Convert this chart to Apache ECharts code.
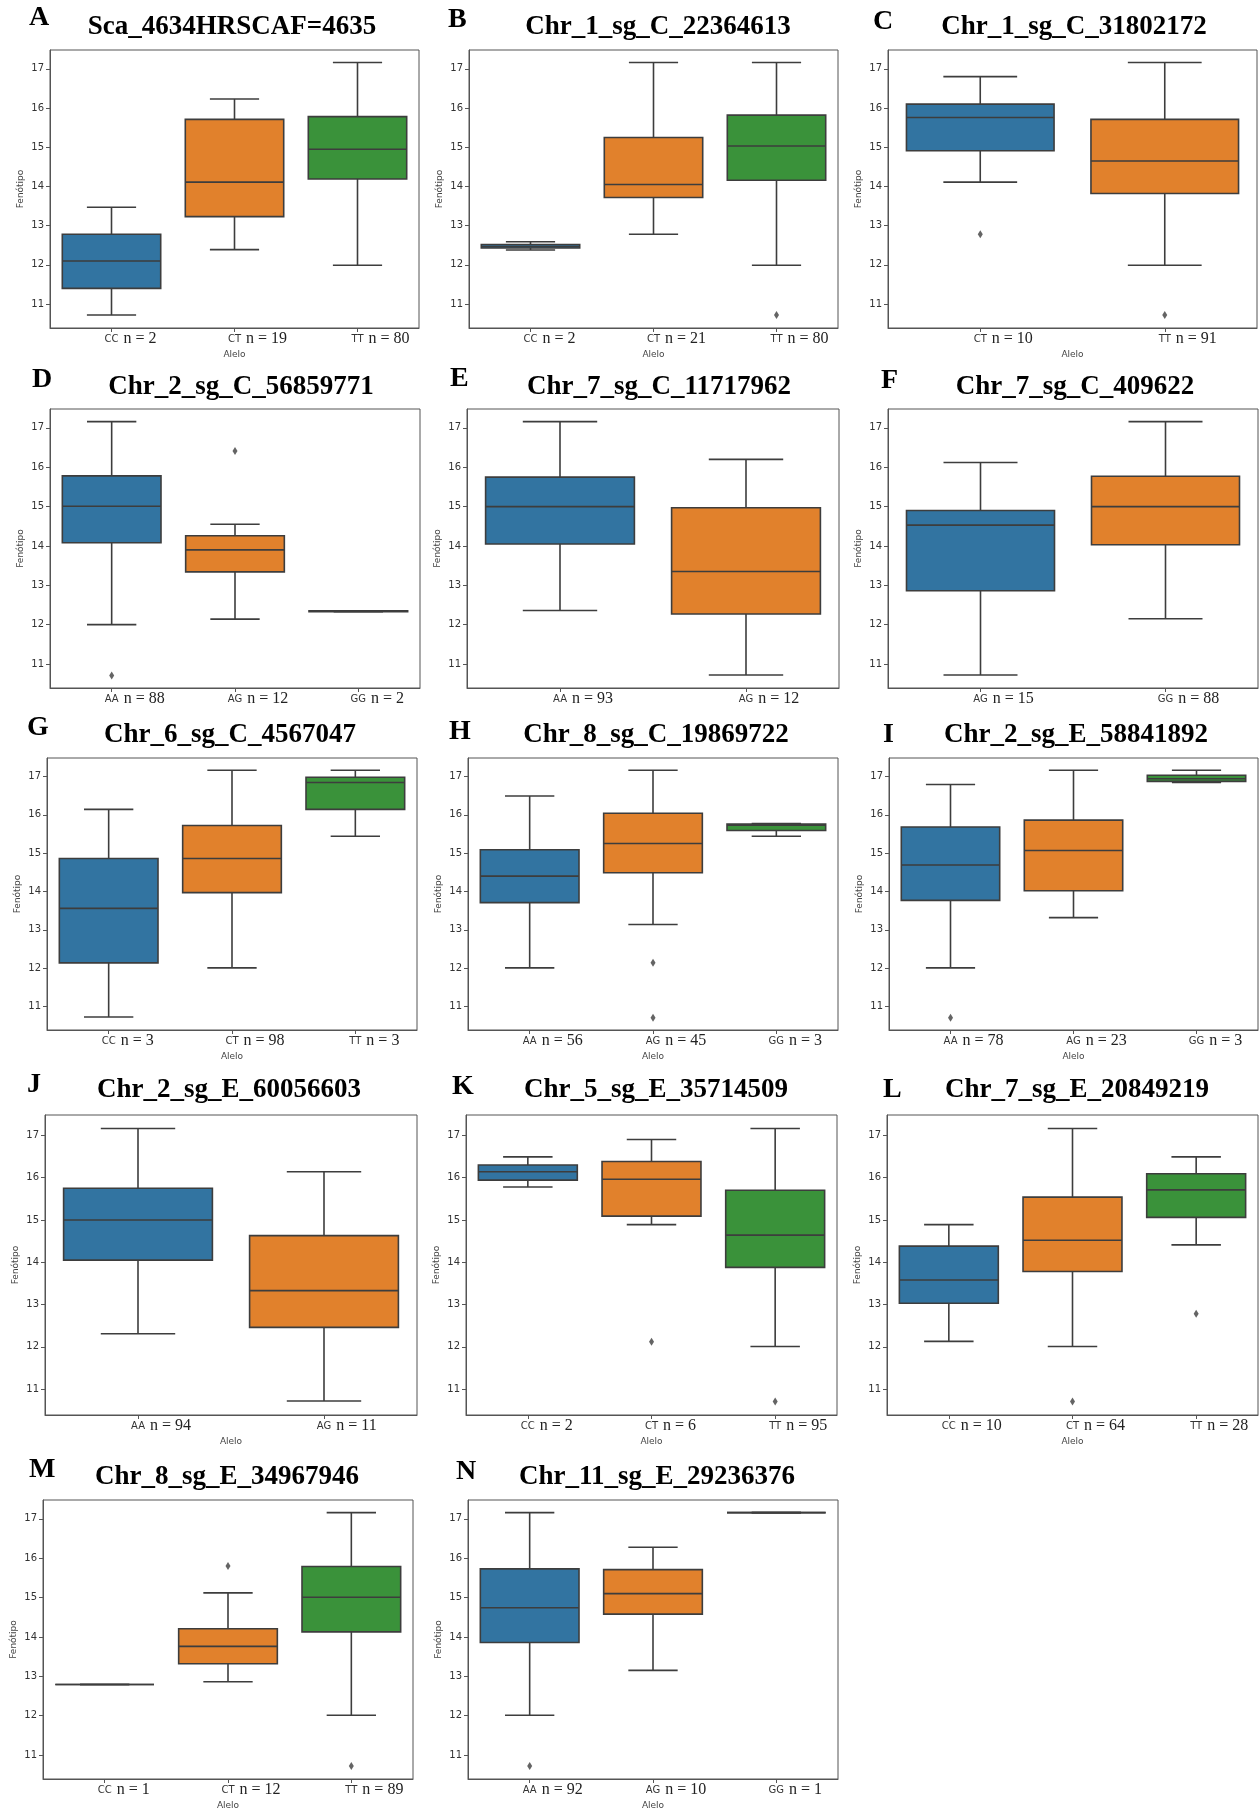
<!DOCTYPE html>
<html>
<head>
<meta charset="utf-8">
<script src="https://cdn.jsdelivr.net/npm/echarts@6/dist/echarts.min.js"></script>
<style>
  body { margin: 0; background: #fff; }
  #chart { width: 1260px; height: 1811px; }
</style>
</head>
<body>
<div id="chart"></div>
<script>
// panel titles and letters
const LETTERS = ['A', 'B', 'C', 'D', 'E', 'F', 'G', 'H', 'I', 'J', 'K', 'L', 'M', 'N'];
const TITLES = [
  'Sca_4634HRSCAF=4635', 'Chr_1_sg_C_22364613', 'Chr_1_sg_C_31802172',
  'Chr_2_sg_C_56859771', 'Chr_7_sg_C_11717962', 'Chr_7_sg_C_409622',
  'Chr_6_sg_C_4567047', 'Chr_8_sg_C_19869722', 'Chr_2_sg_E_58841892',
  'Chr_2_sg_E_60056603', 'Chr_5_sg_E_35714509', 'Chr_7_sg_E_20849219',
  'Chr_8_sg_E_34967946', 'Chr_11_sg_E_29236376'
];

// categories (alleles) and n per panel
const ALLELES = [
  ['CC', 'CT', 'TT'], ['CC', 'CT', 'TT'], ['CT', 'TT'],
  ['AA', 'AG', 'GG'], ['AA', 'AG'], ['AG', 'GG'],
  ['CC', 'CT', 'TT'], ['AA', 'AG', 'GG'], ['AA', 'AG', 'GG'],
  ['AA', 'AG'], ['CC', 'CT', 'TT'], ['CC', 'CT', 'TT'],
  ['CC', 'CT', 'TT'], ['AA', 'AG', 'GG']
];
const COUNTS = [
  [2, 19, 80], [2, 21, 80], [10, 91],
  [88, 12, 2], [93, 12], [15, 88],
  [3, 98, 3], [56, 45, 3], [78, 23, 3],
  [94, 11], [2, 6, 95], [10, 64, 28],
  [1, 12, 89], [92, 10, 1]
];

// box stats: [lower whisker, q1, median, q3, upper whisker]
const boxA = [[10.72, 11.40, 12.10, 12.78, 13.47], [12.39, 13.23, 14.11, 15.71, 16.23], [11.99, 14.19, 14.95, 15.78, 17.16]];
const boxB = [[12.38, 12.43, 12.47, 12.52, 12.59], [12.78, 13.72, 14.05, 15.25, 17.16], [11.99, 14.16, 15.03, 15.82, 17.16]];
const boxC = [[14.11, 14.91, 15.76, 16.10, 16.80], [11.99, 13.82, 14.65, 15.71, 17.16]];
const boxD = [[12.00, 14.08, 15.01, 15.78, 17.16], [12.14, 13.34, 13.90, 14.26, 14.55], [12.33, 12.33, 12.34, 12.35, 12.35]];
const boxE = [[12.36, 14.05, 15.00, 15.75, 17.16], [10.72, 12.27, 13.35, 14.97, 16.20]];
const boxF = [[10.72, 12.86, 14.53, 14.90, 16.12], [12.15, 14.03, 15.00, 15.77, 17.16]];
const boxG = [[10.73, 12.14, 13.56, 14.86, 16.14], [12.01, 13.97, 14.86, 15.72, 17.16], [15.44, 16.14, 16.84, 16.98, 17.16]];
const boxH = [[12.01, 13.71, 14.40, 15.09, 16.49], [13.14, 14.49, 15.25, 16.04, 17.16], [15.44, 15.59, 15.73, 15.76, 15.77]];
const boxI = [[12.01, 13.77, 14.69, 15.68, 16.79], [13.32, 14.02, 15.07, 15.86, 17.16], [16.84, 16.87, 16.94, 17.03, 17.16]];
const boxJ = [[12.31, 14.05, 15.00, 15.75, 17.16], [10.72, 12.46, 13.33, 14.63, 16.14]];
const boxK = [[15.78, 15.94, 16.14, 16.30, 16.49], [14.89, 15.09, 15.96, 16.38, 16.90], [12.01, 13.88, 14.64, 15.70, 17.16]];
const boxL = [[12.13, 13.03, 13.58, 14.38, 14.89], [12.01, 13.78, 14.52, 15.54, 17.16], [14.41, 15.06, 15.71, 16.09, 16.49]];
const boxM = [[12.79, 12.79, 12.79, 12.79, 12.79], [12.86, 13.32, 13.76, 14.21, 15.12], [12.01, 14.13, 15.01, 15.79, 17.16]];
const boxN = [[12.01, 13.86, 14.74, 15.73, 17.16], [13.15, 14.58, 15.10, 15.71, 16.28], [17.16, 17.16, 17.16, 17.16, 17.16]];
const BOXES = [boxA, boxB, boxC, boxD, boxE, boxF, boxG, boxH, boxI, boxJ, boxK, boxL, boxM, boxN];

// outliers: [category index, value]
const outA = [];
const outB = [[2, 10.72]];
const outC = [[0, 12.78], [1, 10.72]];
const outD = [[0, 10.71], [1, 16.41]];
const outE = [];
const outF = [];
const outG = [];
const outH = [[1, 12.14], [1, 10.71]];
const outI = [[0, 10.71]];
const outJ = [];
const outK = [[1, 12.12], [2, 10.71]];
const outL = [[1, 10.71], [2, 12.78]];
const outM = [[1, 15.80], [2, 10.72]];
const outN = [[0, 10.72]];
const OUTLIERS = [outA, outB, outC, outD, outE, outF, outG, outH, outI, outJ, outK, outL, outM, outN];

// y axis
const Y_MIN = 10.39;
const Y_MAX = 17.48;
const Y_TICKS = [11, 12, 13, 14, 15, 16, 17];

// layout: plot rects [left, top, width, height], title centres, letter positions
const GRIDS = [
  [50, 50, 369, 278], [469, 50, 369, 278], [888, 50, 369, 278],
  [50, 409, 370, 279], [467, 409, 372, 279], [888, 409, 370, 279],
  [47, 758, 370, 272], [468, 758, 370, 272], [889, 758, 369, 272],
  [45, 1115, 372, 300], [466, 1115, 371, 300], [887, 1115, 371, 300],
  [43, 1500, 370, 279], [468, 1500, 370, 279]
];
const TITLE_POS = [
  [232, 27], [658, 27], [1074, 27],
  [241, 387], [659, 387], [1075, 387],
  [230, 735], [656, 735], [1076, 735],
  [229, 1090], [656, 1090], [1077, 1090],
  [227, 1477], [657, 1477]
];
const LETTER_POS = [
  [29, 18], [448, 20], [873, 22],
  [32, 380], [450, 379], [881, 381],
  [27, 728], [449, 732], [883, 735],
  [27, 1085], [452, 1087], [883, 1090],
  [29, 1470], [456, 1472]
];
const SHOW_XNAME = [true, true, true, false, false, false, true, true, true, true, true, true, true, true];

const PALETTE = ['#3274a1', '#e1812c', '#3a923a'];
const EDGE = '#3d3d3d';

const measure = document.createElement('canvas').getContext('2d');
function textWidth(str, font) {
  measure.font = font;
  return measure.measureText(str).width;
}
const SANS_SMALL = '10px "DejaVu Sans"';
const SERIF_N = '16px "Liberation Serif"';

function renderBox(params, api) {
  const idx = api.value(0);
  const lo = api.coord([idx, api.value(1)]);
  const q1 = api.coord([idx, api.value(2)]);
  const md = api.coord([idx, api.value(3)]);
  const q3 = api.coord([idx, api.value(4)]);
  const hi = api.coord([idx, api.value(5)]);
  const band = api.size([1, 0])[0];
  const x = md[0];
  const bw = band * 0.8;
  const cw = band * 0.4;
  const line = { stroke: EDGE, lineWidth: 1.6 };
  return {
    type: 'group',
    children: [
      { type: 'line', shape: { x1: x, y1: q3[1], x2: x, y2: hi[1] }, style: line },
      { type: 'line', shape: { x1: x, y1: q1[1], x2: x, y2: lo[1] }, style: line },
      { type: 'line', shape: { x1: x - cw / 2, y1: hi[1], x2: x + cw / 2, y2: hi[1] }, style: line },
      { type: 'line', shape: { x1: x - cw / 2, y1: lo[1], x2: x + cw / 2, y2: lo[1] }, style: line },
      { type: 'rect', shape: { x: x - bw / 2, y: q3[1], width: bw, height: q1[1] - q3[1] },
        style: { fill: PALETTE[idx], stroke: EDGE, lineWidth: 1.6 } },
      { type: 'line', shape: { x1: x - bw / 2, y1: md[1], x2: x + bw / 2, y2: md[1] }, style: line }
    ]
  };
}

const chart = echarts.init(document.getElementById('chart'));
const option = {
  animation: false,
  backgroundColor: '#fff',
  grid: [], xAxis: [], yAxis: [], series: [], graphic: []
};

for (let p = 0; p < TITLES.length; p++) {
  const [l, t, w, h] = GRIDS[p];
  option.grid.push({ left: l, top: t, width: w, height: h, show: true, borderColor: '#555', borderWidth: 1 });

  // rich label: allele centred on tick, "n = .." pasted to the right
  const rich = {
    a: { fontFamily: 'DejaVu Sans', fontSize: 10, color: '#333' },
    b: { fontFamily: 'Liberation Serif', fontSize: 16, color: '#222' },
    sp: { fontFamily: 'Liberation Serif', fontSize: 16, width: 5 }
  };
  ALLELES[p].forEach((a, i) => {
    rich['s' + i] = { width: 5 + textWidth('n = ' + COUNTS[p][i], SERIF_N) };
  });

  option.xAxis.push({
    gridIndex: p,
    type: 'category',
    data: ALLELES[p],
    axisLine: { show: true, lineStyle: { color: '#555' } },
    axisTick: { show: true, alignWithLabel: true, length: 4, lineStyle: { color: '#555' } },
    axisLabel: {
      margin: 3,
      interval: 0,
      formatter: (v, i) => `{s${i}| }{a|${v}}{sp| }{b|n = ${COUNTS[p][i]}}`,
      rich: rich
    },
    splitLine: { show: false },
    name: SHOW_XNAME[p] ? 'Alelo' : '',
    nameLocation: 'middle',
    nameGap: 22,
    nameTextStyle: { fontFamily: 'DejaVu Sans', fontSize: 9, color: '#444' }
  });

  option.yAxis.push({
    gridIndex: p,
    type: 'value',
    min: Y_MIN,
    max: Y_MAX,
    axisLine: { show: true, lineStyle: { color: '#555' } },
    axisTick: { show: true, length: 4, customValues: Y_TICKS, lineStyle: { color: '#555' } },
    axisLabel: { customValues: Y_TICKS, fontFamily: 'DejaVu Sans', fontSize: 10, color: '#333', margin: 6 },
    splitLine: { show: false },
    name: 'Fenótipo',
    nameLocation: 'middle',
    nameRotate: 90,
    nameGap: 25,
    nameTextStyle: { fontFamily: 'DejaVu Sans', fontSize: 9, color: '#444' }
  });

  option.series.push({
    type: 'custom',
    xAxisIndex: p,
    yAxisIndex: p,
    renderItem: renderBox,
    encode: { x: 0, y: [1, 2, 3, 4, 5] },
    data: BOXES[p].map((b, i) => [i].concat(b)),
    z: 2
  });

  if (OUTLIERS[p].length) {
    option.series.push({
      type: 'scatter',
      xAxisIndex: p,
      yAxisIndex: p,
      symbol: 'diamond',
      symbolSize: [5, 8],
      itemStyle: { color: EDGE },
      data: OUTLIERS[p],
      z: 3
    });
  }

  option.graphic.push({
    type: 'text',
    x: TITLE_POS[p][0],
    y: TITLE_POS[p][1],
    style: { text: TITLES[p], font: 'bold 27px "Liberation Serif"', fill: '#000', align: 'center', verticalAlign: 'middle' }
  });
  option.graphic.push({
    type: 'text',
    x: LETTER_POS[p][0],
    y: LETTER_POS[p][1],
    style: { text: LETTERS[p], font: 'bold 28px "Liberation Serif"', fill: '#000', align: 'left', verticalAlign: 'middle' }
  });
}

chart.setOption(option);
</script>
</body>
</html>
